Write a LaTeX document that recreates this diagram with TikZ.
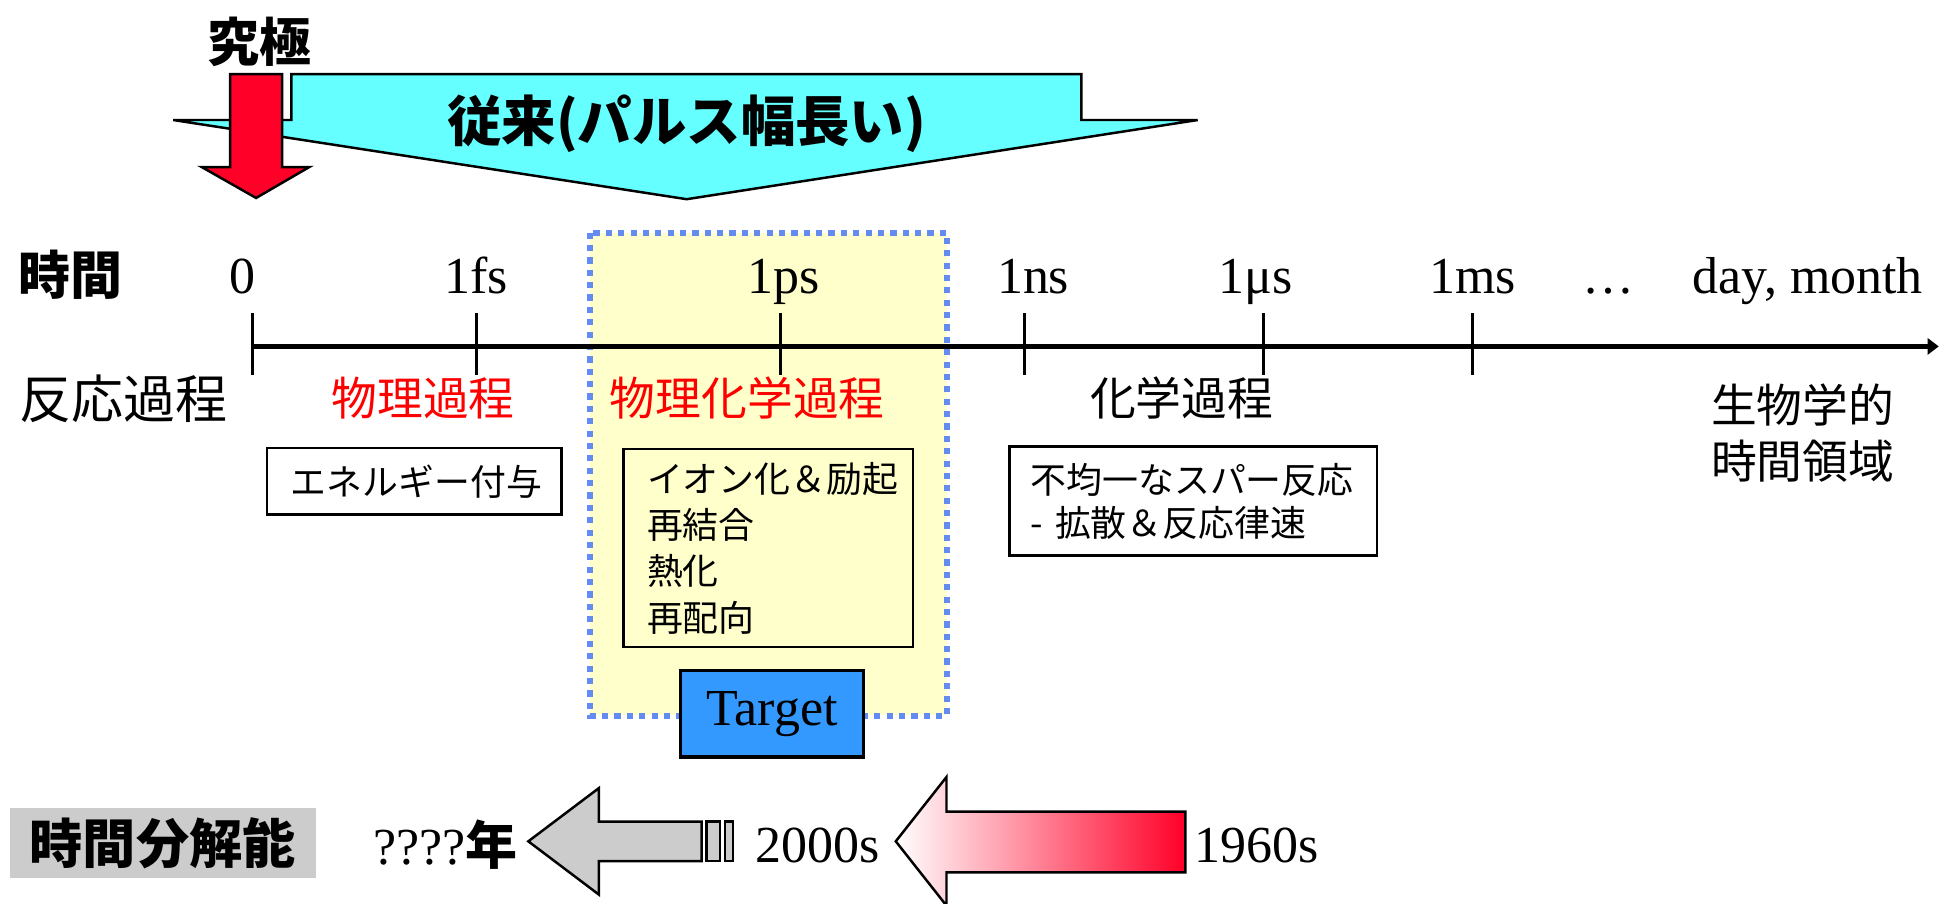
\documentclass[tikz,border=0pt]{standalone}
\usepackage{fontspec}
\setmainfont{Liberation Serif}
\newfontfamily\jp{Noto Sans CJK JP}
\usetikzlibrary{arrows.meta}
\definecolor{cyanfill}{RGB}{102,255,255}
\definecolor{redfill}{RGB}{255,0,40}
\definecolor{dotblue}{RGB}{100,140,240}
\definecolor{paleyellow}{RGB}{255,255,204}
\definecolor{targetblue}{RGB}{51,153,255}
\definecolor{grayfill}{RGB}{204,204,204}
\definecolor{labred}{RGB}{255,0,0}
\begin{document}
\begin{tikzpicture}[x=1pt,y=-1pt,
  serif/.style={font=\fontsize{42}{46}\selectfont, inner sep=0pt},
  jbig/.style={font=\jp\fontsize{42}{46}\selectfont, inner sep=0pt},
  jbold/.style={font=\jp\bfseries\fontsize{42}{46}\selectfont, inner sep=0pt},
  jlab/.style={font=\jp\fontsize{37}{45}\selectfont, inner sep=0pt},
  jbox/.style={draw, line width=2pt, font=\jp\fontsize{29}{37.5}\selectfont, align=left, anchor=north west, inner ysep=0pt},
  tickmark/.style={line width=2.5pt},
  shapeline/.style={line width=2pt, line join=miter},
  dotborder/.style={draw=dotblue, line width=5pt, dash pattern=on 5pt off 5pt},
]
\useasboundingbox (0,0) rectangle (1568,730);

% physicochemical zone
\node[fill=paleyellow, minimum width=288pt, minimum height=390pt, inner sep=0pt, anchor=north west] (zone) at (477,188) {};
\draw[dotborder] (zone.north west) rectangle (zone.south east);

% conventional (long pulse) arrow
\draw[shapeline, fill=cyanfill] (140,97) -- (235.5,97) -- (235.5,60) -- (874,60) -- (874,97) -- (968,97) -- (555,161) -- cycle;
\node[jbold, font=\jp\bfseries\fontsize{44}{48}\selectfont] (conv) at (555,100) {従来(パルス幅長い)};

% ultimate arrow
\draw[shapeline, fill=redfill] (186,60) -- (228,60) -- (228,135) -- (250,135) -- (207,160) -- (163,135) -- (186,135) -- cycle;
\node[jbold] (ult) at (210,34) {究極};

% left labels
\node[jbold] (jikan) at (57,222) {時間};
\node[jbig] (hannou) at (100,322) {反応過程};

% axis
\coordinate (ax0) at (204,280);
\coordinate (axend) at (1567,280);
\draw[line width=3.5pt, -{Triangle[length=9pt,width=13pt]}] (ax0) -- (axend);
\foreach \n/\x in {t0/204, tfs/385, tps/631, tns/828, tus/1021, tms/1190} {
  \coordinate (\n a) at (\x,253);
  \coordinate (\n b) at (\x,303);
  \draw[tickmark] (\n a) -- (\n b);
}

% tick labels
\node[serif, anchor=base] (l0) at (196,237) {0};
\node[serif, anchor=base] (lfs) at (385,237) {1fs};
\node[serif, anchor=base] (lps) at (633,237) {1ps};
\node[serif, anchor=base] (lns) at (835,237) {1ns};
\node[serif, anchor=base] (lus) at (1015,237) {1μs};
\node[serif, anchor=base] (lms) at (1190,237) {1ms};
\node[serif, anchor=base] (ldots) at (1300,237) {…};
\node[serif, anchor=base] (lday) at (1461,237) {day, month};

% process labels
\node[jlab, text=labred] (phys) at (342,322) {物理過程};
\node[jlab, text=labred] (physchem) at (604,322) {物理化学過程};
\node[jlab] (chem) at (955,322) {化学過程};
\node[jlab, align=center] (bio) at (1457,350) {生物学的\\時間領域};

% boxes
\node[jbox, minimum width=238pt, minimum height=54pt, text width=200pt, inner xsep=19pt] (energy) at (215,361) {エネルギー付与};
\node[jbox, minimum width=234pt, minimum height=160pt, text width=196pt, inner xsep=19pt] (ion) at (503,362)
  {イオン化＆励起\\再結合\\熱化\\再配向};
\node[jbox, minimum width=297pt, minimum height=88pt, text width=263pt, inner xsep=17pt, font=\jp\fontsize{29}{35}\selectfont] (spur) at (815,360)
  {不均一なスパー反応\\- 拡散＆反応律速};

% target
\node[draw, line width=3pt, fill=targetblue, minimum width=148pt, minimum height=70pt, inner sep=0pt, font=\fontsize{42}{46}\selectfont] (target) at (624,577) {Target};

% time resolution row
\node[fill=grayfill, minimum width=247pt, minimum height=57pt, inner sep=0pt, font=\jp\bfseries\fontsize{43}{47}\selectfont] (bunkai) at (131.5,681.5) {時間分解能};
\node[serif] (future) at (360,683) {????{\jp\bfseries 年}};

\draw[shapeline, fill=grayfill] (427,680) -- (484,637) -- (484,664) -- (567,664) -- (567,696) -- (484,696) -- (484,723) -- cycle;
\draw[shapeline, fill=grayfill] (571,664) rectangle (582,696);
\draw[shapeline, fill=grayfill] (586,664) rectangle (592.5,696);

\node[serif] (y2000) at (661,683) {2000s};

\draw[shapeline, left color=white, right color=redfill] (724,680) -- (765,628) -- (765,656) -- (958,656) -- (958,705) -- (765,705) -- (765,732) -- cycle;

\node[serif] (y1960) at (1016,683) {1960s};
\end{tikzpicture}
\end{document}
